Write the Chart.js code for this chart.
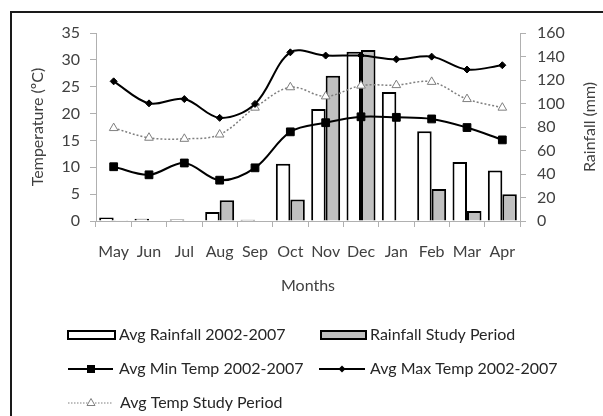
<!DOCTYPE html>
<html>
<head>
<meta charset="utf-8">
<script src="https://cdn.jsdelivr.net/npm/chart.js@4.4.1/dist/chart.umd.min.js"></script>
<style>
  html, body { margin: 0; padding: 0; background: #fff; }
  canvas { display: block; }
</style>
</head>
<body>
<canvas id="climateChart" width="603" height="416"></canvas>
<script>
// values
const months = ['May', 'Jun', 'Jul', 'Aug', 'Sep', 'Oct', 'Nov', 'Dec', 'Jan', 'Feb', 'Mar', 'Apr'];
const avgRainfall = [3, 2, 1.3, 7.7, 1, 48.8, 95.4, 144, 109.7, 76.4, 50.3, 42.9];
const studyRainfall = [0.7, 0, 0, 17.6, 0, 18.2, 123.6, 145.5, 0, 27.3, 8.5, 22.7];
const avgMinTemp = [10.1, 8.6, 10.8, 7.6, 9.9, 16.6, 18.3, 19.4, 19.3, 19.0, 17.4, 15.1];
const avgMaxTemp = [26.0, 21.9, 22.7, 19.2, 21.8, 31.4, 30.8, 30.8, 30.1, 30.6, 28.2, 29.0];
const avgTempStudy = [17.3, 15.5, 15.3, 16.1, 21.1, 24.9, 23.2, 25.2, 25.3, 25.9, 22.7, 21.1];
const tempMax = 35, tempStep = 5;
const rainMax = 160, rainStep = 20;

const FONT = 'Lato';
const TEXT = '#404040';
const AXIS = '#b0b0b0';
const GREY_BAR = '#c0c0c0';
const DOT_GREY = '#7f7f7f';

// frame, right axis title and the legend are drawn by hand
const extras = {
    id: 'extras',
    afterDraw(chart) {
        const ctx = chart.ctx;
        const area = chart.chartArea;
        ctx.save();

        // outer frame (right and bottom edges fall outside the picture)
        ctx.strokeStyle = '#1a1a1a';
        ctx.lineWidth = 2;
        ctx.beginPath();
        ctx.moveTo(11, chart.height);
        ctx.lineTo(11, 12);
        ctx.lineTo(chart.width, 12);
        ctx.stroke();

        // right axis title, reading bottom to top like the left one
        ctx.fillStyle = TEXT;
        ctx.font = '16px ' + FONT;
        ctx.textAlign = 'center';
        ctx.textBaseline = 'middle';
        ctx.translate(590, (area.top + area.bottom) / 2);
        ctx.rotate(-Math.PI / 2);
        ctx.fillText('Rainfall (mm)', 0, 0);
        ctx.setTransform(1, 0, 0, 1, 0, 0);

        // legend
        ctx.textAlign = 'left';
        const box = (x, y, w, fill) => {
            ctx.fillStyle = fill;
            ctx.fillRect(x, y - 4, w, 8);
            ctx.strokeStyle = '#000';
            ctx.lineWidth = 2;
            ctx.setLineDash([]);
            ctx.strokeRect(x, y - 4, w, 8);
        };
        const label = (text, x, y) => {
            ctx.fillStyle = '#262626';
            ctx.fillText(text, x, y);
        };
        const sample = (x1, x2, y, color, width, dash) => {
            ctx.strokeStyle = color;
            ctx.lineWidth = width;
            ctx.setLineDash(dash);
            ctx.beginPath();
            ctx.moveTo(x1, y);
            ctx.lineTo(x2, y);
            ctx.stroke();
            ctx.setLineDash([]);
        };

        box(68, 335, 47, '#ffffff');
        label('Avg Rainfall 2002-2007', 119, 335);
        box(321, 335, 45, GREY_BAR);
        label('Rainfall Study Period', 370, 335);

        sample(68, 113, 369, '#000', 2, []);
        ctx.fillStyle = '#000';
        ctx.fillRect(87, 365, 8, 8);
        label('Avg Min Temp 2002-2007', 119, 369);

        sample(319, 365, 369, '#000', 2, []);
        ctx.fillStyle = '#000';
        ctx.beginPath();
        ctx.moveTo(342, 365.5);
        ctx.lineTo(345.5, 369);
        ctx.lineTo(342, 372.5);
        ctx.lineTo(338.5, 369);
        ctx.closePath();
        ctx.fill();
        label('Avg Max Temp 2002-2007', 370, 369);

        sample(68, 113, 403, DOT_GREY, 1.2, [1.5, 1.5]);
        ctx.fillStyle = '#fff';
        ctx.strokeStyle = DOT_GREY;
        ctx.lineWidth = 1;
        ctx.beginPath();
        ctx.moveTo(91, 398.5);
        ctx.lineTo(95, 405.5);
        ctx.lineTo(87, 405.5);
        ctx.closePath();
        ctx.fill();
        ctx.stroke();
        label('Avg Temp Study Period', 120, 403);

        ctx.restore();
    }
};

const ctx = document.getElementById('climateChart').getContext('2d');
const chart = new Chart(ctx, {
    data: {
        labels: months,
        datasets: [
            {
                type: 'line',
                label: 'Avg Min Temp 2002-2007',
                data: avgMinTemp,
                yAxisID: 'yTemp',
                borderColor: '#000',
                borderWidth: 2,
                tension: 0.35,
                pointStyle: 'rect',
                pointRadius: 5.5,
                pointBackgroundColor: '#000',
                pointBorderColor: '#000',
                pointBorderWidth: 1,
                order: 1
            },
            {
                type: 'line',
                label: 'Avg Max Temp 2002-2007',
                data: avgMaxTemp,
                yAxisID: 'yTemp',
                borderColor: '#000',
                borderWidth: 2,
                tension: 0.35,
                pointStyle: 'rectRot',
                pointRadius: 3.5,
                pointBackgroundColor: '#000',
                pointBorderColor: '#000',
                pointBorderWidth: 1,
                order: 1
            },
            {
                type: 'line',
                label: 'Avg Temp Study Period',
                data: avgTempStudy,
                yAxisID: 'yTemp',
                borderColor: DOT_GREY,
                borderWidth: 1.5,
                borderDash: [2, 2],
                tension: 0.35,
                pointStyle: 'triangle',
                pointRadius: 5,
                pointBackgroundColor: '#fff',
                pointBorderColor: DOT_GREY,
                pointBorderWidth: 1,
                order: 1
            },
            {
                type: 'bar',
                label: 'Avg Rainfall 2002-2007',
                data: avgRainfall,
                yAxisID: 'yRain',
                backgroundColor: '#ffffff',
                borderColor: '#000',
                borderWidth: 2,
                categoryPercentage: 0.82,
                barPercentage: 1,
                order: 2
            },
            {
                type: 'bar',
                label: 'Rainfall Study Period',
                data: studyRainfall,
                yAxisID: 'yRain',
                backgroundColor: GREY_BAR,
                borderColor: '#000',
                borderWidth: 2,
                categoryPercentage: 0.82,
                barPercentage: 1,
                order: 2
            }
        ]
    },
    options: {
        responsive: false,
        animation: false,
        layout: { padding: { left: 24, right: 0, top: 33, bottom: 115 } },
        plugins: {
            legend: { display: false },
            tooltip: { enabled: false }
        },
        scales: {
            x: {
                grid: {
                    offset: true,
                    drawOnChartArea: false,
                    drawTicks: true,
                    tickLength: 6,
                    color: AXIS
                },
                border: { color: AXIS, width: 1 },
                ticks: { color: TEXT, font: { family: FONT, size: 16 }, padding: 15, maxRotation: 0, autoSkip: false },
                title: {
                    display: true,
                    text: 'Months',
                    color: TEXT,
                    font: { family: FONT, size: 16 },
                    padding: { top: 4, bottom: 6 }
                },
                afterFit: s => { s.height = 80; }
            },
            yTemp: {
                position: 'left',
                min: 0,
                max: tempMax,
                ticks: { stepSize: tempStep, color: TEXT, font: { family: FONT, size: 16 }, padding: 10 },
                grid: { drawOnChartArea: false, drawTicks: true, tickLength: 6, color: AXIS },
                border: { color: AXIS, width: 1 },
                title: {
                    display: true,
                    text: 'Temperature (ºC)',
                    color: TEXT,
                    font: { family: FONT, size: 16 },
                    padding: { top: 4, bottom: 4 }
                },
                afterFit: s => { s.width = 72; }
            },
            yRain: {
                position: 'right',
                min: 0,
                max: rainMax,
                ticks: { stepSize: rainStep, color: TEXT, font: { family: FONT, size: 16 }, padding: 11 },
                grid: { drawOnChartArea: false, drawTicks: true, tickLength: 6, color: AXIS },
                border: { color: AXIS, width: 1 },
                afterFit: s => { s.width = 83; }
            }
        }
    },
    plugins: [extras]
});
</script>
</body>
</html>
